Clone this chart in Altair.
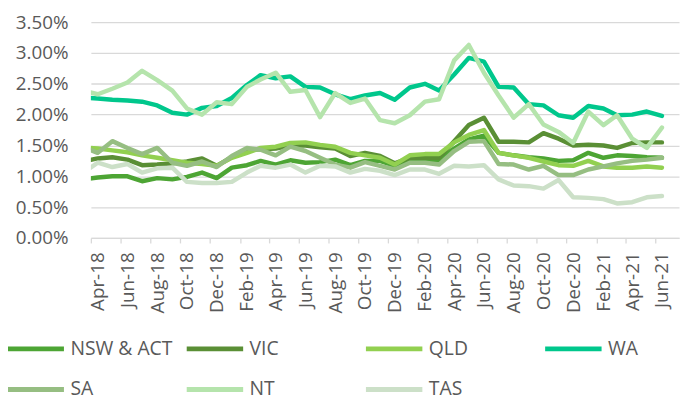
import altair as alt
import pandas as pd

# Months Mar-18 .. Jun-21 (Mar-18 sits just left of the axis start and is clipped)
months = pd.date_range("2018-03-01", "2021-06-01", freq="MS") + pd.Timedelta(days=14)

series_names = ["NSW & ACT", "VIC", "QLD", "WA", "SA", "NT", "TAS"]
series_colors = ["#4DA534", "#5A8F35", "#92D050", "#00C78C", "#96BE82", "#B5E4AC", "#CCE0C8"]

nsw = [0.95, 0.98, 1.00, 1.00, 0.92, 0.97, 0.95, 0.99, 1.06, 0.97, 1.14, 1.18, 1.25, 1.19, 1.26,
       1.22, 1.23, 1.27, 1.18, 1.25, 1.25, 1.17, 1.25, 1.26, 1.26, 1.45, 1.60, 1.66, 1.38, 1.34,
       1.31, 1.29, 1.25, 1.26, 1.38, 1.30, 1.34, 1.33, 1.31, 1.30]
vic = [1.24, 1.29, 1.31, 1.27, 1.18, 1.19, 1.21, 1.24, 1.29, 1.17, 1.31, 1.43, 1.44, 1.45, 1.50,
       1.50, 1.47, 1.45, 1.33, 1.38, 1.33, 1.21, 1.30, 1.30, 1.30, 1.57, 1.83, 1.95, 1.56, 1.56,
       1.55, 1.70, 1.61, 1.50, 1.51, 1.50, 1.46, 1.54, 1.55, 1.55]
qld = [1.47, 1.45, 1.42, 1.39, 1.34, 1.30, 1.26, 1.22, 1.20, 1.17, 1.30, 1.38, 1.46, 1.48, 1.54,
       1.55, 1.51, 1.48, 1.38, 1.34, 1.30, 1.19, 1.34, 1.36, 1.36, 1.55, 1.67, 1.75, 1.38, 1.34,
       1.30, 1.24, 1.18, 1.17, 1.25, 1.16, 1.14, 1.14, 1.16, 1.14]
wa = [2.28, 2.26, 2.24, 2.23, 2.21, 2.15, 2.03, 2.00, 2.11, 2.14, 2.27, 2.48, 2.64, 2.59, 2.62,
      2.45, 2.44, 2.33, 2.25, 2.31, 2.35, 2.24, 2.44, 2.50, 2.39, 2.65, 2.92, 2.86, 2.45, 2.44,
      2.17, 2.15, 1.99, 1.95, 2.14, 2.10, 1.99, 2.00, 2.05, 1.98]
sa = [1.48, 1.38, 1.57, 1.46, 1.36, 1.46, 1.22, 1.17, 1.24, 1.15, 1.33, 1.46, 1.43, 1.34, 1.48,
      1.41, 1.30, 1.19, 1.14, 1.23, 1.17, 1.11, 1.22, 1.22, 1.19, 1.41, 1.56, 1.57, 1.20, 1.19,
      1.11, 1.17, 1.02, 1.02, 1.11, 1.16, 1.21, 1.25, 1.27, 1.30]
nt = [2.39, 2.33, 2.42, 2.52, 2.71, 2.56, 2.39, 2.10, 2.00, 2.20, 2.17, 2.45, 2.57, 2.68, 2.37,
      2.40, 1.96, 2.35, 2.19, 2.26, 1.91, 1.86, 1.99, 2.21, 2.25, 2.88, 3.13, 2.68, 2.31, 1.95,
      2.17, 1.84, 1.72, 1.54, 2.05, 1.83, 1.99, 1.61, 1.46, 1.79]
tas = [1.05, 1.22, 1.15, 1.20, 1.06, 1.13, 1.14, 0.91, 0.89, 0.89, 0.91, 1.06, 1.17, 1.14, 1.19,
       1.06, 1.17, 1.16, 1.06, 1.12, 1.09, 1.02, 1.11, 1.11, 1.04, 1.17, 1.16, 1.18, 0.95, 0.85,
       0.84, 0.80, 0.94, 0.66, 0.65, 0.63, 0.56, 0.58, 0.66, 0.68]

all_series = [nsw, vic, qld, wa, sa, nt, tas]

rows = []
for name, vals in zip(series_names, all_series):
    for d, v in zip(months, vals):
        rows.append({"date": d.strftime("%Y-%m-%d"), "series": name, "value": v})
df = pd.DataFrame(rows)

tick_dates = [alt.DateTime(year=y, month=m, date=1, utc=True)
              for y in (2018, 2019, 2020, 2021) for m in (2, 4, 6, 8, 10, 12)
              if (y, m) >= (2018, 4) and (y, m) <= (2021, 6)]

x = alt.X(
    "date:T",
    scale=alt.Scale(type="utc",
                    domain=[alt.DateTime(year=2018, month=4, date=1, utc=True),
                            alt.DateTime(year=2021, month=7, date=20, utc=True)]),
    axis=alt.Axis(values=tick_dates, labelExpr="utcFormat(datum.value, '%b-%y')", labelAngle=270,
                  grid=False, title=None, labelOffset=7, tickSize=5, labelPadding=9,
                  domainWidth=1.3, tickWidth=1.3),
)
y = alt.Y(
    "value:Q",
    scale=alt.Scale(domain=[0, 3.5], nice=False),
    axis=alt.Axis(values=[0, 0.5, 1, 1.5, 2, 2.5, 3, 3.5], labelExpr="format(datum.value, '.2f') + '%'",
                  title=None, domain=False, ticks=False, labelPadding=23),
)
color = alt.Color(
    "series:N",
    scale=alt.Scale(domain=series_names, range=series_colors),
    legend=alt.Legend(orient="none", legendX=-86.7, legendY=299, direction="horizontal", columns=4,
                      symbolType="stroke", symbolSize=3249, symbolStrokeWidth=5, title=None,
                      labelFont="Open Sans", labelFontSize=19.5, labelColor="#595959",
                      columnPadding=3, rowPadding=-26, gridAlign="all", labelOffset=4, labelLimit=300),
)

chart = alt.Chart(df).mark_line(strokeWidth=4.5, strokeCap="round", strokeJoin="round", clip=True).encode(
    x=x, y=y, color=color
).properties(
    width=594, height=218,
    autosize=alt.AutoSizeParams(type="none"),
    padding={"left": 83.7, "top": 12.3, "right": 1, "bottom": 163.7},
).configure_view(stroke=None).configure_axis(
    labelFont="Open Sans", labelFontSize=19, labelColor="#595959",
    gridColor="#D9D9D9", gridWidth=1.3, domainColor="#D9D9D9", tickColor="#D9D9D9",
)

chart.save("out.html", embed_options={"renderer": "svg", "actions": False})
